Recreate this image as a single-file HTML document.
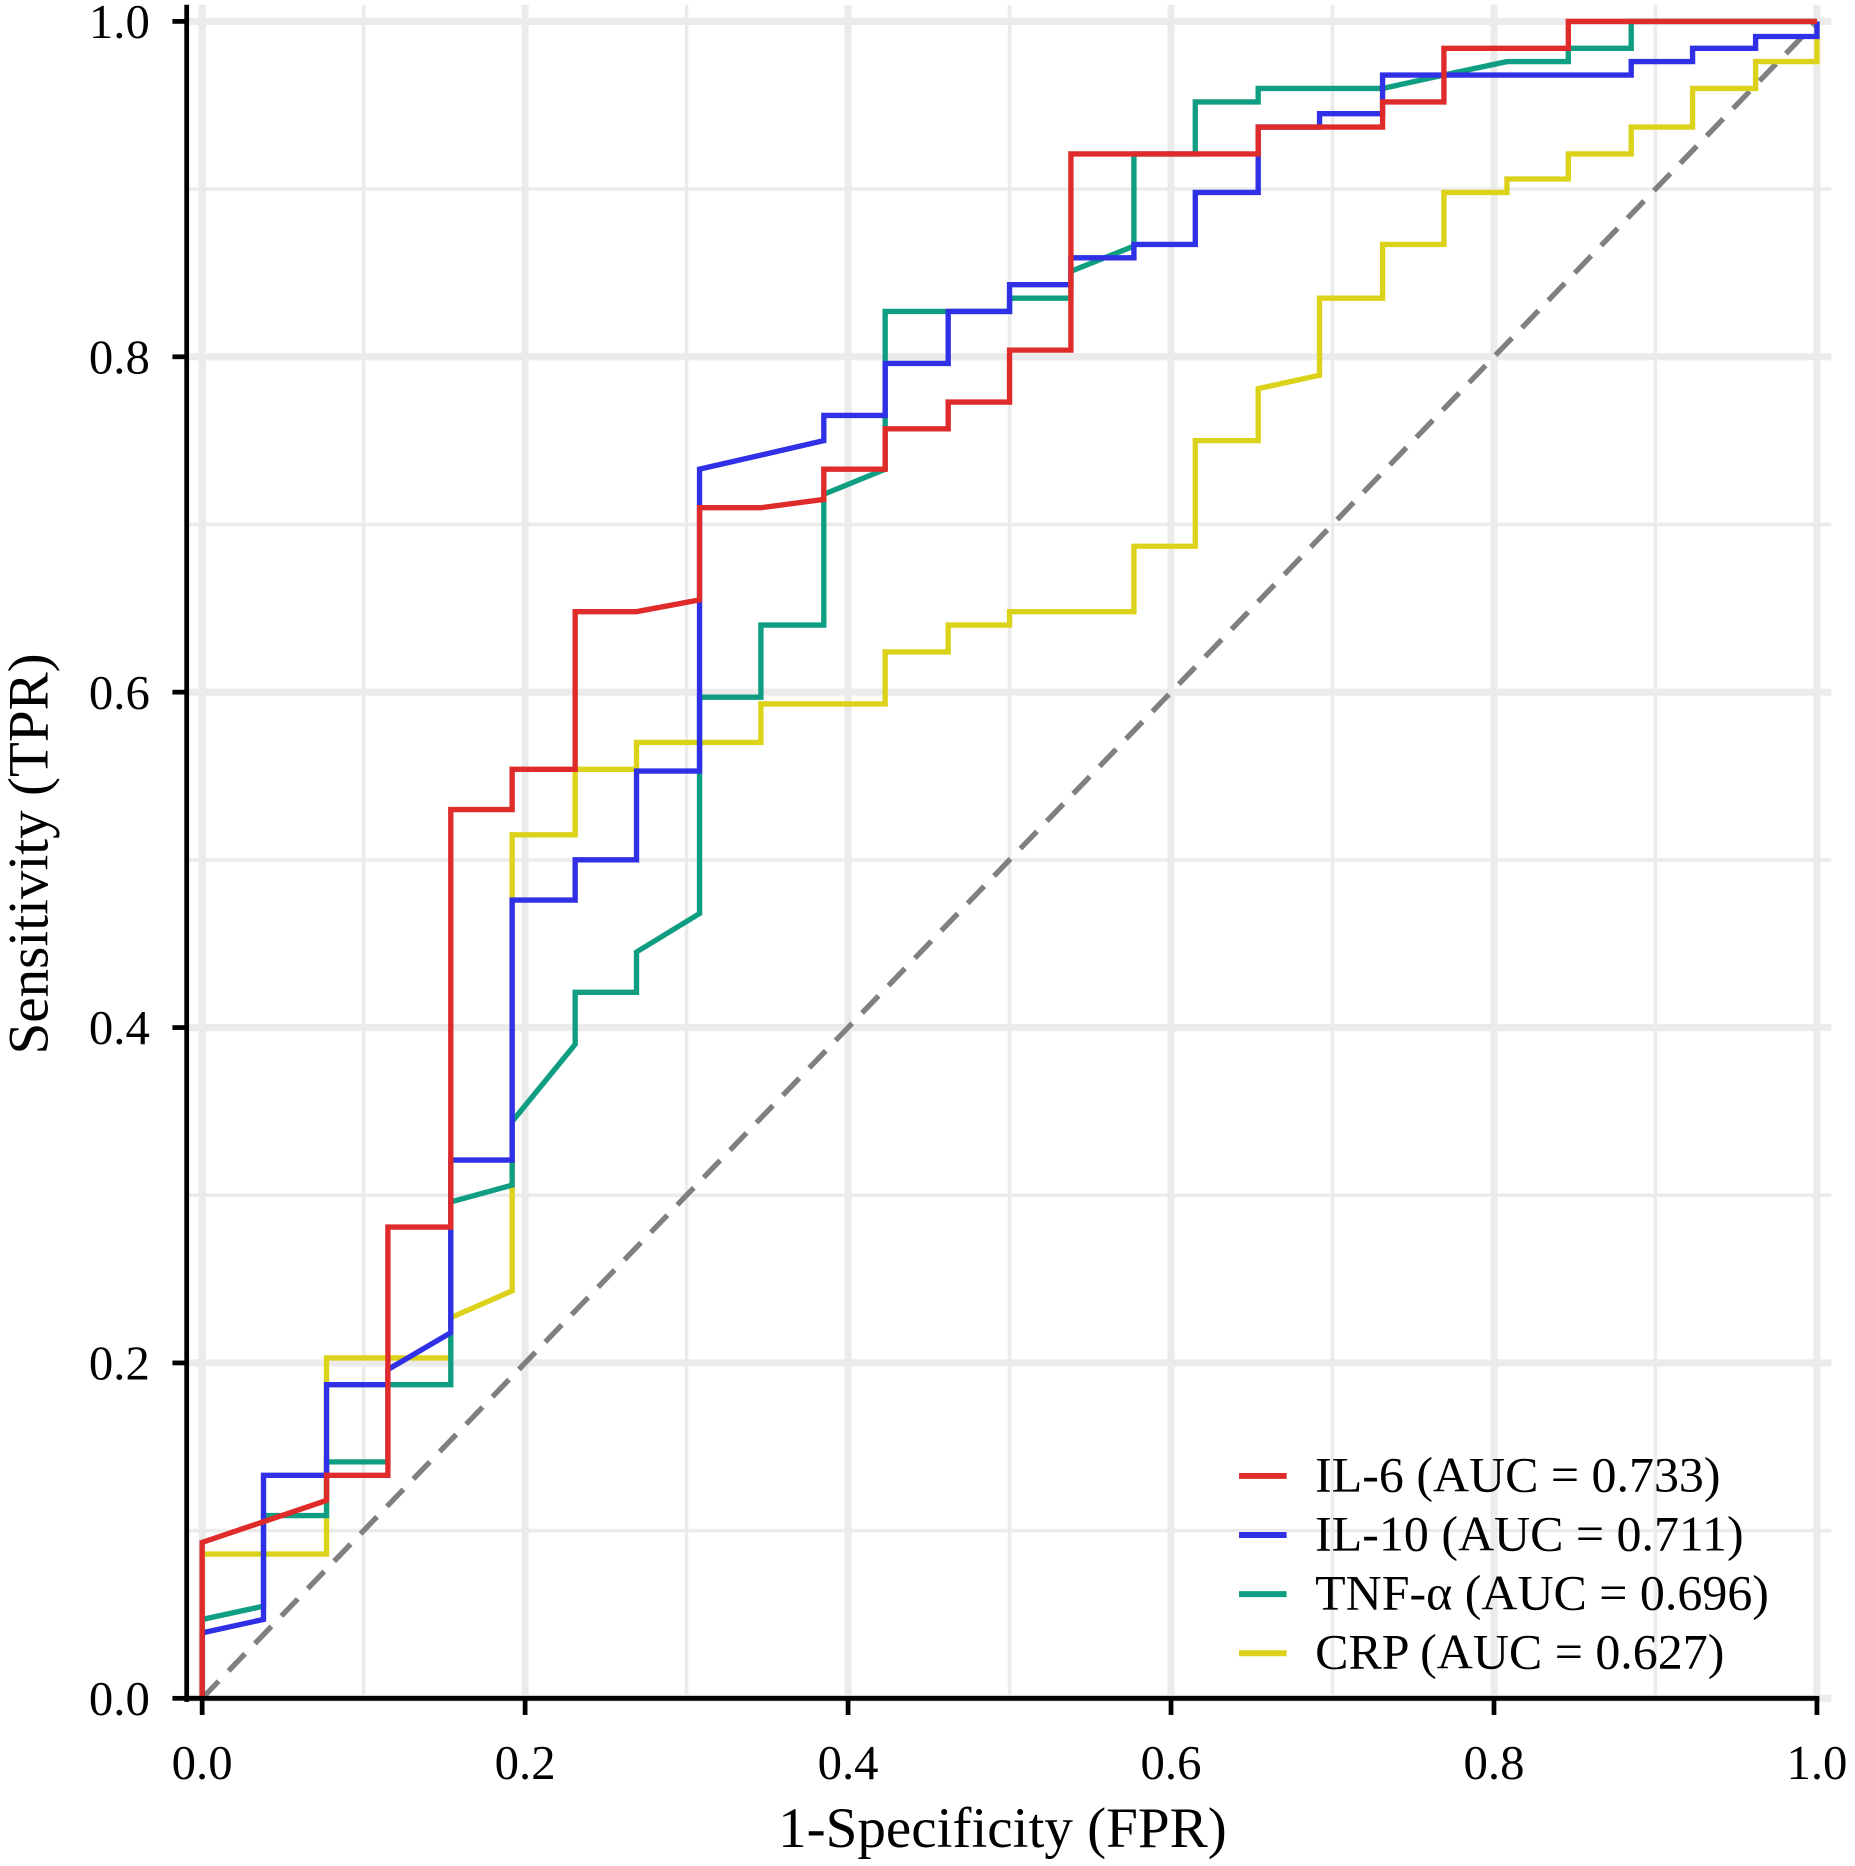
<!DOCTYPE html>
<html><head><meta charset="utf-8"><style>
html,body{margin:0;padding:0;background:#fff;}
svg{display:block;font-family:"Liberation Serif",serif;}
</style></head><body>
<svg id="chart" width="1855" height="1866" viewBox="0 0 1560 1569" preserveAspectRatio="none" xmlns="http://www.w3.org/2000/svg">
<g id="grid"></g>
<g id="series"></g>
<g id="axes"></g>
<g id="legend"></g>
<text x="843" y="1553" font-size="48" text-anchor="middle">1-Specificity (FPR)</text>
<text transform="translate(40,718) rotate(-90)" font-size="48" text-anchor="middle">Sensitivity (TPR)</text>
</svg>
<script>
const ticks = [0, 0.2, 0.4, 0.6, 0.8, 1.0];
const tickLabels = ["0.0", "0.2", "0.4", "0.6", "0.8", "1.0"];
const minorTicks = [0.1, 0.3, 0.5, 0.7, 0.9];
const seriesNames = ["IL-6 (AUC = 0.733)", "IL-10 (AUC = 0.711)", "TNF-α (AUC = 0.696)", "CRP (AUC = 0.627)"];
const seriesColors = ["#e02b2b", "#3030e6", "#0f9e82", "#dcd21a"];
const il6Fpr = [0,0,0.077,0.077,0.115,0.115,0.154,0.154,0.192,0.192,0.231,0.231,0.269,0.308,0.308,0.346,0.385,0.385,0.423,0.423,0.462,0.462,0.5,0.5,0.538,0.538,0.654,0.654,0.731,0.731,0.769,0.769,0.846,0.846,1];
const il6Tpr = [0,0.093,0.118,0.133,0.133,0.281,0.281,0.530,0.530,0.554,0.554,0.648,0.648,0.655,0.710,0.710,0.715,0.733,0.733,0.757,0.757,0.773,0.773,0.804,0.804,0.921,0.921,0.937,0.937,0.952,0.952,0.984,0.984,1,1];
const il10Fpr = [0,0,0.038,0.038,0.077,0.077,0.115,0.115,0.154,0.154,0.192,0.192,0.231,0.231,0.269,0.269,0.308,0.308,0.385,0.385,0.423,0.423,0.462,0.462,0.5,0.5,0.538,0.538,0.577,0.577,0.615,0.615,0.654,0.654,0.692,0.692,0.731,0.731,0.885,0.885,0.923,0.923,0.962,0.962,1,1];
const il10Tpr = [0,0.039,0.047,0.133,0.133,0.187,0.187,0.196,0.218,0.321,0.321,0.476,0.476,0.500,0.500,0.553,0.553,0.733,0.750,0.765,0.765,0.796,0.796,0.827,0.827,0.843,0.843,0.859,0.859,0.867,0.867,0.898,0.898,0.937,0.937,0.945,0.945,0.968,0.968,0.976,0.976,0.984,0.984,0.991,0.991,1];
const tnfFpr = [0,0,0.038,0.038,0.077,0.077,0.115,0.115,0.154,0.154,0.192,0.192,0.231,0.231,0.269,0.269,0.308,0.308,0.346,0.346,0.385,0.385,0.423,0.423,0.5,0.5,0.538,0.538,0.577,0.577,0.615,0.615,0.654,0.654,0.731,0.769,0.808,0.846,0.846,0.885,0.885,1];
const tnfTpr = [0,0.047,0.055,0.109,0.109,0.141,0.141,0.187,0.187,0.296,0.306,0.344,0.390,0.421,0.421,0.445,0.468,0.597,0.597,0.640,0.640,0.718,0.733,0.827,0.827,0.835,0.835,0.851,0.866,0.921,0.921,0.952,0.952,0.960,0.960,0.968,0.976,0.976,0.984,0.984,1,1];
const crpFpr = [0,0,0.077,0.077,0.154,0.154,0.192,0.192,0.231,0.231,0.269,0.269,0.346,0.346,0.423,0.423,0.462,0.462,0.5,0.5,0.577,0.577,0.615,0.615,0.654,0.654,0.692,0.692,0.731,0.731,0.769,0.769,0.808,0.808,0.846,0.846,0.885,0.885,0.923,0.923,0.962,0.962,1,1];
const crpTpr = [0,0.086,0.086,0.203,0.203,0.227,0.243,0.515,0.515,0.554,0.554,0.570,0.570,0.593,0.593,0.624,0.624,0.640,0.640,0.648,0.648,0.687,0.687,0.750,0.750,0.781,0.789,0.835,0.835,0.867,0.867,0.898,0.898,0.906,0.906,0.921,0.921,0.937,0.937,0.960,0.960,0.976,0.976,1];

const NS = "http://www.w3.org/2000/svg";
const X0 = 170, X1 = 1528, Y0 = 1428, Y1 = 18;
function sx(v){ return X0 + v * (X1 - X0); }
function sy(v){ return Y0 - v * (Y0 - Y1); }
function mk(tag, attrs, parent){
  const el = document.createElementNS(NS, tag);
  for (const k in attrs) el.setAttribute(k, attrs[k]);
  parent.appendChild(el);
  return el;
}
const grid = document.getElementById('grid');
minorTicks.forEach(v => {
  const a = mk('line', {x1: sx(v), x2: sx(v), y1: 4, y2: Y0, stroke: '#ebebeb', 'stroke-width': 3}, grid);
  
  
  const b = mk('line', {x1: 157, x2: 1540, y1: sy(v), y2: sy(v), stroke: '#ebebeb', 'stroke-width': 3}, grid);
  
  
});
ticks.forEach(v => {
  const a = mk('line', {x1: sx(v), x2: sx(v), y1: 4, y2: Y0, stroke: '#ebebeb', 'stroke-width': 6}, grid);
  
  
  const b = mk('line', {x1: 157, x2: 1540, y1: sy(v), y2: sy(v), stroke: '#ebebeb', 'stroke-width': 6}, grid);
  
  
});
const series = document.getElementById('series');
const ref = mk('line', {x1: sx(0), y1: sy(0), x2: sx(1), y2: sy(1), stroke: '#808080', 'stroke-width': 4.5, 'stroke-dasharray': '20 12'}, series);


const allF = [il6Fpr, il10Fpr, tnfFpr, crpFpr];
const allT = [il6Tpr, il10Tpr, tnfTpr, crpTpr];
const names = ['il6-roc-curve', 'il10-roc-curve', 'tnf-roc-curve', 'crp-roc-curve'];
for (let i = 3; i >= 0; i--) {
  const pts = allF[i].map((f, j) => sx(f).toFixed(1) + ',' + sy(allT[i][j]).toFixed(1)).join(' ');
  const pl = mk('polyline', {points: pts, fill: 'none', stroke: seriesColors[i], 'stroke-width': 4.5, 'stroke-linejoin': 'miter'}, series);
  
  
}
const axes = document.getElementById('axes');
const ya = mk('line', {x1: 157, x2: 157, y1: 4, y2: 1431, stroke: '#000', 'stroke-width': 4}, axes);


const xa = mk('line', {x1: 155, x2: 1530, y1: 1428, y2: 1428, stroke: '#000', 'stroke-width': 4}, axes);


ticks.forEach((v, i) => {
  const t1 = mk('line', {x1: 145, x2: 157, y1: sy(v), y2: sy(v), stroke: '#000', 'stroke-width': 4}, axes);
  
  
  const l1 = mk('text', {x: 126, y: sy(v) + 14, 'font-size': 41, 'text-anchor': 'end'}, axes);
  l1.textContent = tickLabels[i];
  
  
  const t2 = mk('line', {x1: sx(v), x2: sx(v), y1: 1428, y2: 1442, stroke: '#000', 'stroke-width': 4}, axes);
  
  
  const l2 = mk('text', {x: sx(v), y: 1496, 'font-size': 41, 'text-anchor': 'middle'}, axes);
  l2.textContent = tickLabels[i];
  
  
});
const legend = document.getElementById('legend');
seriesNames.forEach((n, i) => {
  const y = 1241 + i * 49.7;
  const k = mk('line', {x1: 1042, x2: 1082, y1: y, y2: y, stroke: seriesColors[i], 'stroke-width': 5}, legend);
  
  
  const t = mk('text', {x: 1106, y: y + 13, 'font-size': 42}, legend);
  t.textContent = n;
  
  
});
</script>
</body></html>
